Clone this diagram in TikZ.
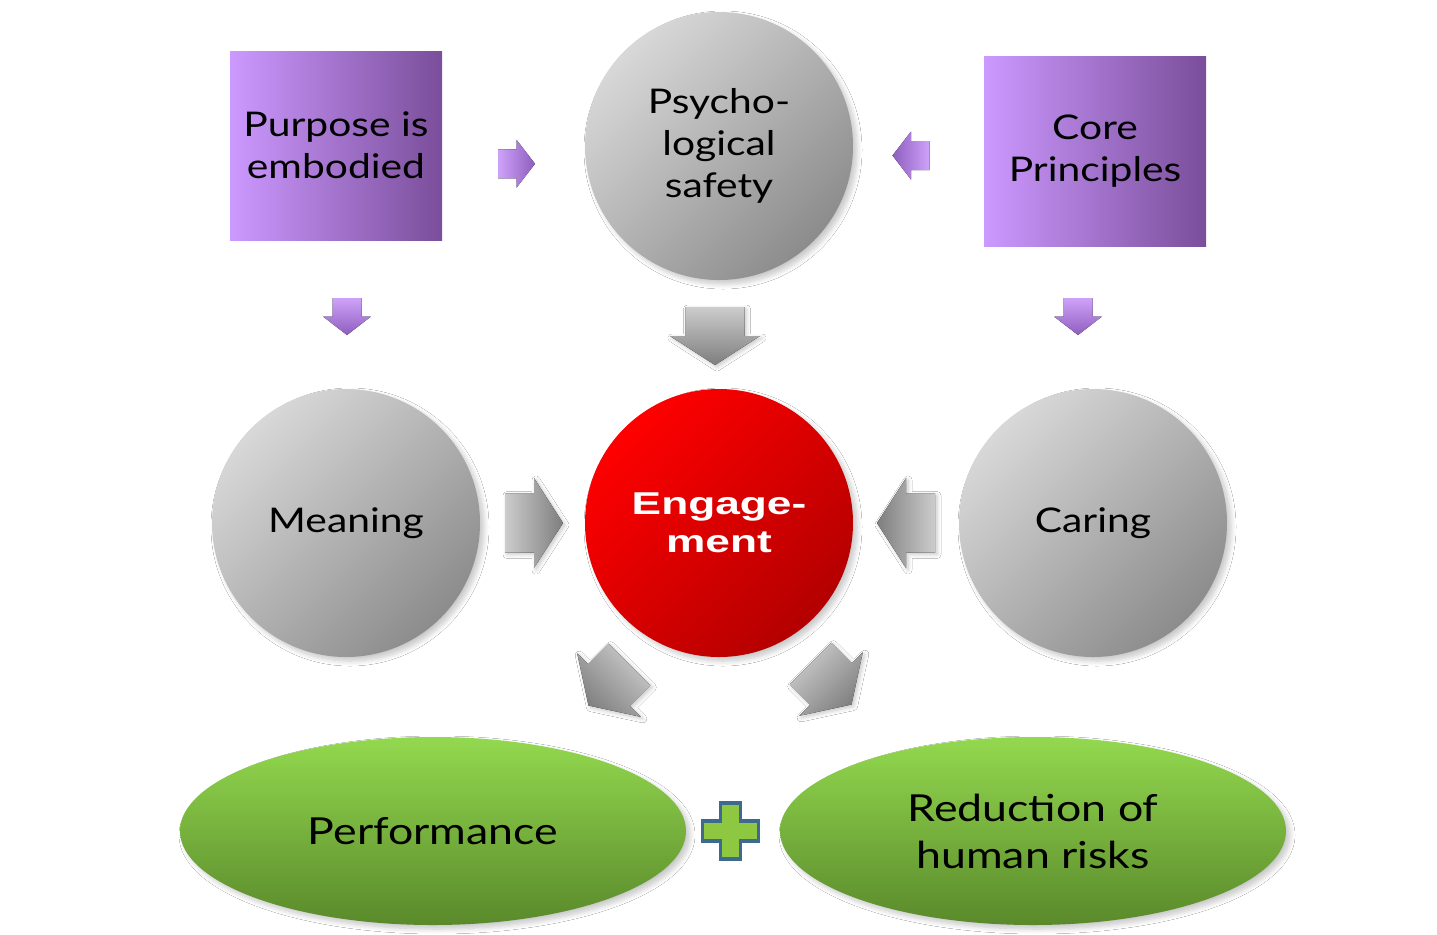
\documentclass[tikz,border=0pt]{standalone}
\usepackage{fontspec}
\setmainfont{Lato}[FakeStretch=1.2]
\newfontfamily\engagefont{Liberation Sans}[FakeStretch=1.4]
\usetikzlibrary{shapes.geometric,shadows.blur,calc}
\definecolor{plumL}{HTML}{CC99FF}
\definecolor{plumD}{HTML}{7A4E9A}
\definecolor{plumArrL}{HTML}{CFA2FA}
\definecolor{plumArrD}{HTML}{8E5EBE}
\definecolor{greyL}{HTML}{D8D8D8}
\definecolor{greyD}{HTML}{8C8C8C}
\definecolor{arrowL}{HTML}{CCCCCC}
\definecolor{arrowD}{HTML}{7E7E7E}
\definecolor{redL}{HTML}{FF0000}
\definecolor{redD}{HTML}{B30000}
\definecolor{greenL}{HTML}{93D94F}
\definecolor{greenD}{HTML}{5A892B}
\definecolor{plusFill}{HTML}{8DC840}
\definecolor{plusLine}{HTML}{3E6A8E}
\begin{document}
\begin{tikzpicture}[x=0.5pt, y=-0.5pt,
  softshadow/.style={blur shadow={shadow blur steps=8, shadow blur radius=2.5pt,
    shadow xshift=2pt, shadow yshift=-2pt, shadow opacity=22}},
  plumbox/.style={rectangle, inner sep=0pt, align=center,
    left color=plumL, right color=plumD,
    font=\fontsize{17}{21}\selectfont},
  greyball/.style={circle, minimum size=134pt, inner sep=0pt, align=center,
    top color=greyL, bottom color=greyD, shading angle=45, softshadow,
    font=\fontsize{17}{21}\selectfont},
  redball/.style={greyball, top color=redL, bottom color=redD, shading angle=45,
    text=white, font=\engagefont\bfseries\fontsize{15.8}{19}\selectfont},
  greenoval/.style={ellipse, minimum width=253pt, minimum height=94pt,
    inner sep=0pt, align=center, top color=greenL, bottom color=greenD,
    softshadow, font=\fontsize{18.6}{23.5}\selectfont},
  pics/bigarrow/.style={code={
    \fill[top color=arrowL, bottom color=arrowD, shading angle=#1,
      blur shadow={shadow blur steps=6, shadow blur radius=2pt, shadow xshift=1pt,
      shadow yshift=-1pt, shadow opacity=22}]
      (-29,-29.5) -- (0,-29.5) -- (0,-45) -- (29,0) -- (0,45) -- (0,29.5)
      -- (-29,29.5) -- cycle;
  }},
  pics/smallarrow/.style={code={
    \fill[top color=plumArrL, bottom color=plumArrD, shading angle=#1]
      (-18.5,-14.5) -- (0,-14.5) -- (0,-24) -- (18.5,0) -- (0,24) -- (0,14.5)
      -- (-18.5,14.5) -- cycle;
  }}]
  \fill[white] (0,0) rectangle (1437,934);
  \useasboundingbox (0,0) rectangle (1437,934);

  % top row
  \node[plumbox, minimum width=106pt, minimum height=94.5pt] (purpose) at (336,145.5) {Purpose is\\embodied};
  \node[greyball] (psych) at (719,146) {Psycho-\\logical\\safety};
  \node[plumbox, minimum width=111pt, minimum height=95pt] (core) at (1095,151) {Core\\Principles};

  % middle row
  \node[greyball] (meaning) at (346,523) {Meaning};
  \node[redball] (engage) at (719,523) {Engage-\\ment};
  \node[greyball] (caring) at (1093,523) {Caring};

  % outcomes
  \node[greenoval] (perf) at (433,831) {Performance};
  \node[greenoval] (risk) at (1033,831) {Reduction of\\human risks};

  % small purple arrows
  \pic at ($(purpose.east)!0.5!(psych.west)+(3,18)$) {smallarrow=90};
  \pic[rotate=180] at ($(core.west)!0.5!(psych.east)+(-7.5,7)$) {smallarrow=-90};
  \pic[rotate=-90] at ($(purpose.south)!0.5!(meaning.north)+(6,2)$) {smallarrow=0};
  \pic[rotate=-90] at ($(core.south)!0.5!(caring.north)+(-16,-1)$) {smallarrow=0};

  % grey arrows into engagement
  \pic[rotate=-90] at ($(psych.south)!0.5!(engage.north)+(-4,1.5)$) {bigarrow=0};
  \pic at ($(meaning.east)!0.5!(engage.west)+(1.5,0)$) {bigarrow=90};
  \pic[rotate=180] at ($(caring.west)!0.5!(engage.east)$) {bigarrow=-90};

  % grey arrows out of engagement
  \pic[rotate=-135] at ($(engage)+(-110,162)$) {bigarrow=-45};
  \pic[rotate=-45] at ($(engage)+(112,161)$) {bigarrow=45};

  % plus sign
  \coordinate (plus) at ($(perf.east)!0.47!(risk.west)$);
  \draw[fill=plusFill, draw=plusLine, line width=1.6pt]
    ($(plus)+(-10,-28)$) -- ++(20,0) -- ++(0,18) -- ++(18,0) -- ++(0,20)
    -- ++(-18,0) -- ++(0,18) -- ++(-20,0) -- ++(0,-18) -- ++(-18,0)
    -- ++(0,-20) -- ++(18,0) -- cycle;
\end{tikzpicture}
\end{document}
